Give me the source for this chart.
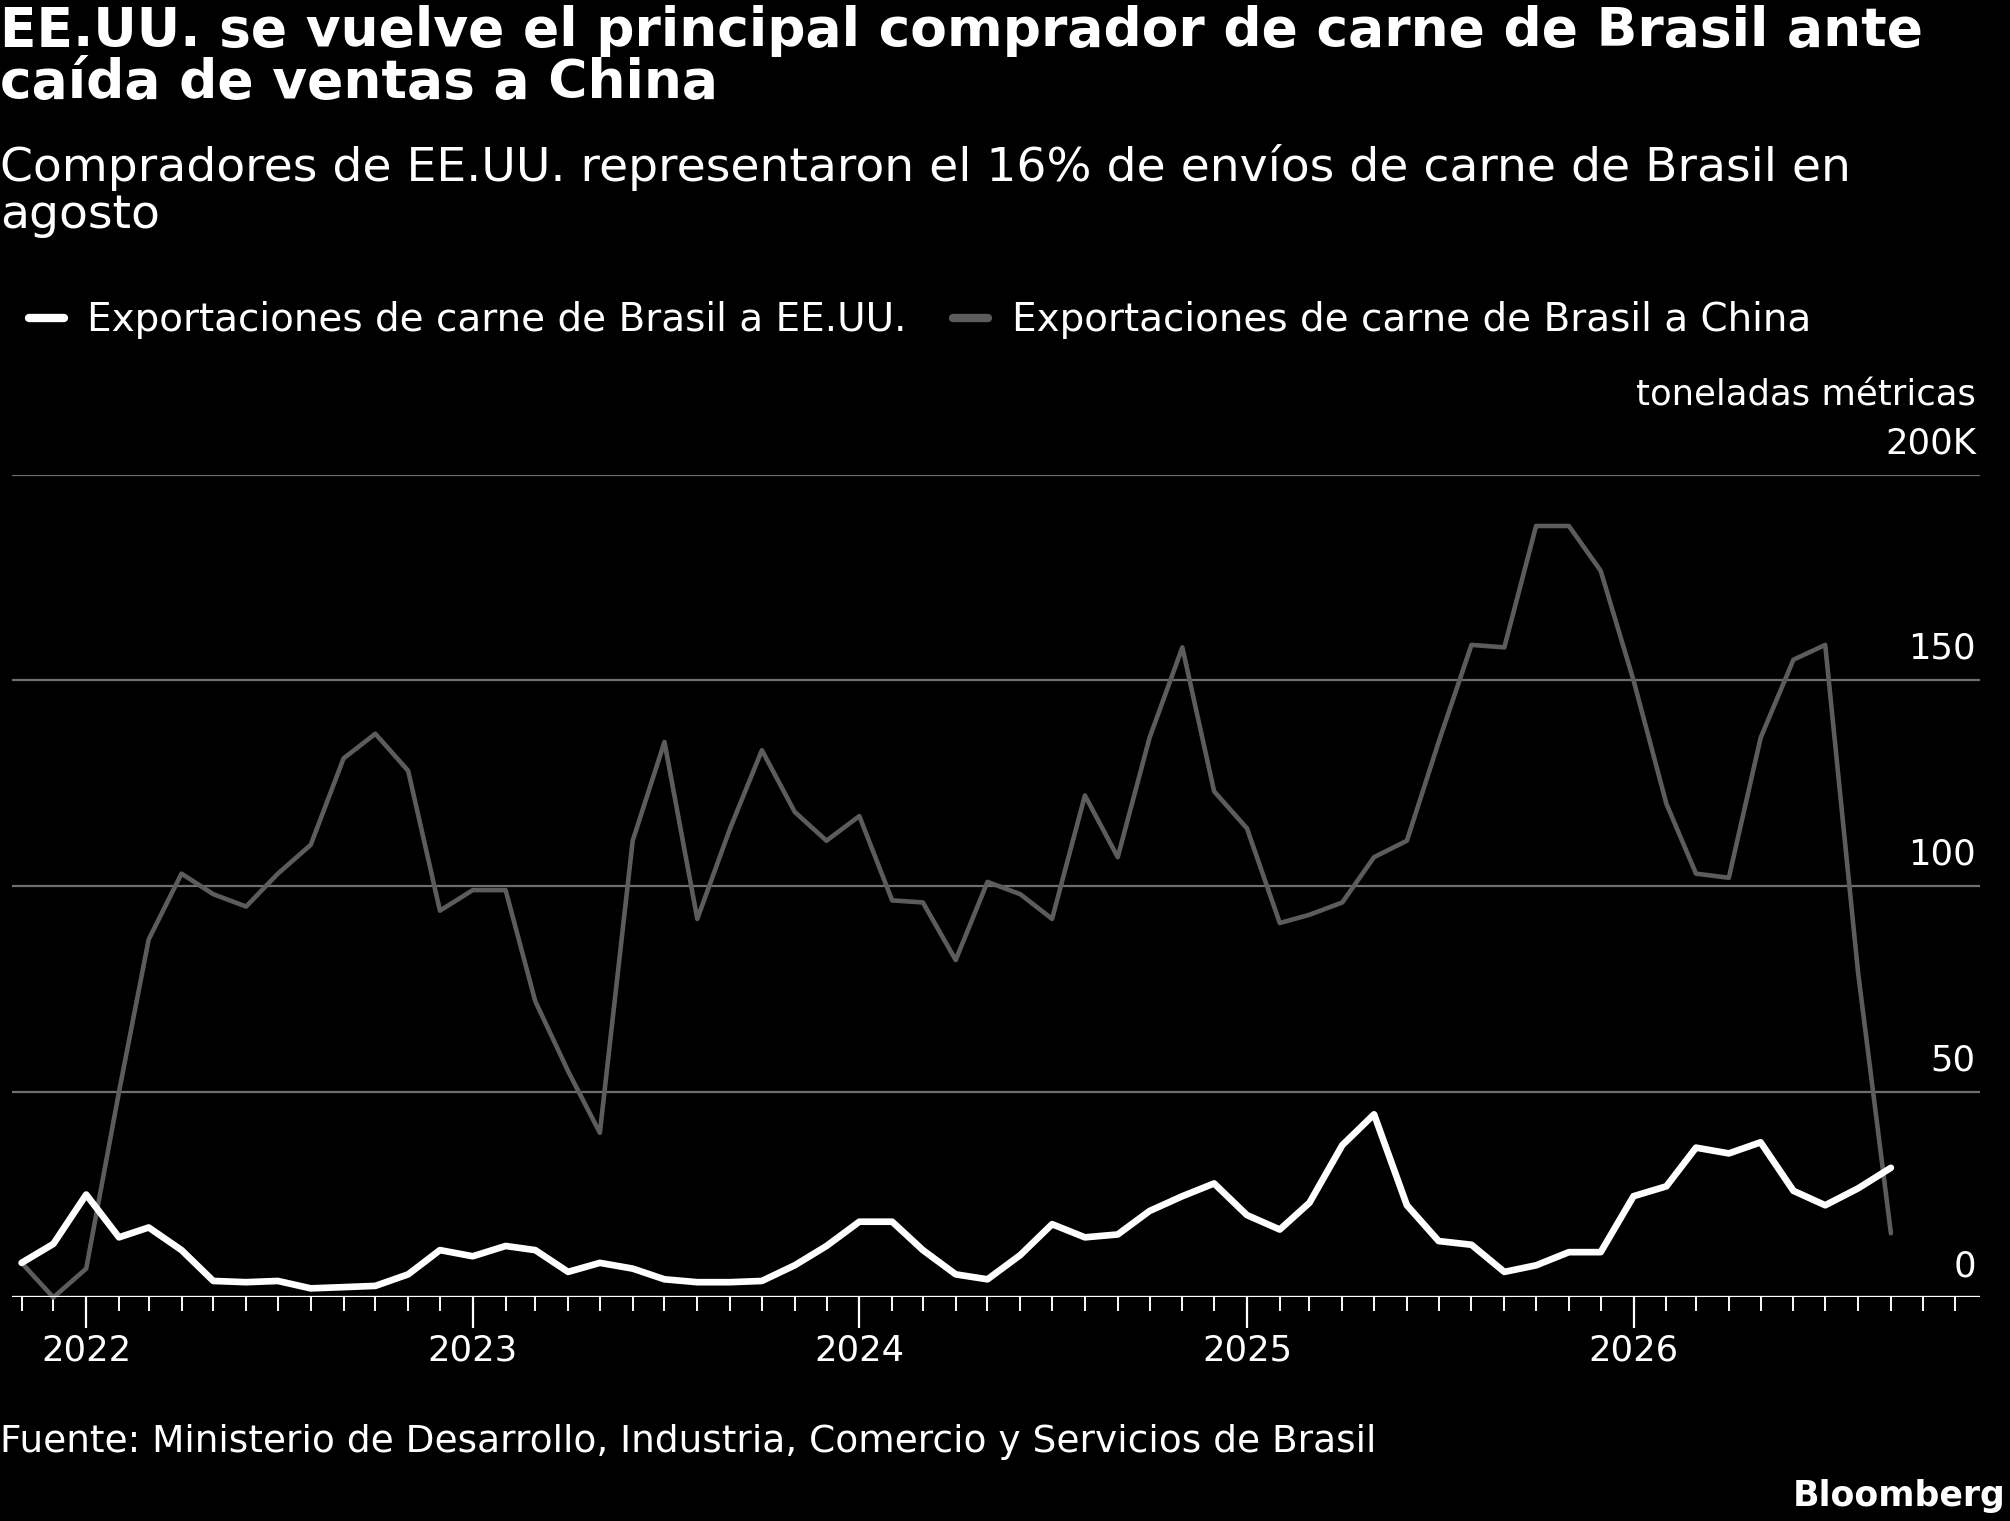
import numpy as np, pandas as pd, matplotlib
matplotlib.use("Agg")
import matplotlib.pyplot as plt, seaborn as sns
import matplotlib.dates as mdates
from matplotlib.lines import Line2D

months = pd.date_range("2021-11-01", "2026-09-01", freq="MS")
china = [8.4,0,7,50,87,103,98,95,103,110,131,137,128,94,99,99,72,55,40,111,135,92,114,133,118,111,
         117,96.5,96,82,101,98,92,122,107,136,158,123,114,91,93,96,107,111,135,158.6,158,187.5,187.5,176.6,
         150,120,103,102,136,155,158.6,79,15.6]
usa = [8.4,13,25,14.6,17,11.5,4,3.7,4,2.2,2.5,2.8,5.6,11.5,10,12.5,11.5,6.2,8.4,7,4.4,3.7,3.7,4,7.8,12.5,
       18.4,18.4,11.5,5.6,4.4,10.3,17.8,14.6,15.3,21,24.6,27.7,20,16.5,23,37,44.5,22.4,13.7,12.8,6.2,7.8,11,11,
       24.6,27,36.4,35,37.7,25.9,22.4,26.5,31.5]
yticks = [0, 50, 100, 150, 200]
ylabels = ["0", "50", "100", "150", "200K"]
df = pd.DataFrame({"date": months, "China": china, "EE.UU.": usa})

sns.set_style("dark")
plt.rcParams["font.family"] = ["DejaVu Sans"]
fig = plt.figure(figsize=(20.10, 15.21), dpi=100, facecolor="black")
ax = fig.add_axes([0.006, 0.147, 0.979, 0.541])
ax.set_facecolor("black")
sns.lineplot(data=df, x="date", y="China", ax=ax, color="#5c5c5c", lw=3.3, clip_on=False)
sns.lineplot(data=df, x="date", y="EE.UU.", ax=ax, color="white", lw=4.8, clip_on=False)
ax.set_ylim(0, 200)
ax.set_xlim(pd.Timestamp("2021-10-23"), pd.Timestamp("2026-11-24"))
ax.set_yticks(yticks)
ax.set_yticklabels([])
ax.tick_params(axis="y", length=0)
ax.grid(axis="y", color="#6e6e6e", lw=1.6)
ax.grid(axis="x", visible=False)
for s in ax.spines.values():
    s.set_visible(False)
ax.axhline(0, color="white", lw=1.6)
for v, l in zip(yticks, ylabels):
    ax.text(0.998, v + 3.5, l, transform=ax.get_yaxis_transform(), ha="right", va="bottom",
            color="white", fontsize=25.5)
ax.text(0.998, 215, "toneladas métricas", transform=ax.get_yaxis_transform(), ha="right",
        va="bottom", color="white", fontsize=25.5)
ax.xaxis.set_major_locator(mdates.YearLocator())
ax.xaxis.set_major_formatter(mdates.DateFormatter("%Y"))
ax.xaxis.set_minor_locator(mdates.MonthLocator())
ax.tick_params(axis="x", which="both", bottom=True)
ax.tick_params(axis="x", which="major", length=22, width=1.6, color="white", labelcolor="white",
               labelsize=25.5, pad=4, direction="out")
ax.tick_params(axis="x", which="minor", length=10, width=1.4, color="white", direction="out")
ax.set_xlabel(""); ax.set_ylabel("")

fig.text(0.0, 0.997, "EE.UU. se vuelve el principal comprador de carne de Brasil ante\ncaída de ventas a China",
         color="white", fontsize=38.5, fontweight="bold", va="top", linespacing=1.02)
fig.text(0.0, 0.905, "Compradores de EE.UU. representaron el 16% de envíos de carne de Brasil en\nagosto",
         color="white", fontsize=34, va="top", linespacing=1.05)
h = [Line2D([], [], color="white", lw=6), Line2D([], [], color="#5c5c5c", lw=6)]
fig.legend(h, ["Exportaciones de carne de Brasil a EE.UU.", "Exportaciones de carne de Brasil a China"],
           loc="upper left", bbox_to_anchor=(-0.003, 0.825), ncol=2, frameon=False, fontsize=28,
           labelcolor="white", handlelength=0.9, columnspacing=1.2, handletextpad=0.6)
fig.text(0.0, 0.04, "Fuente: Ministerio de Desarrollo, Industria, Comercio y Servicios de Brasil",
         color="white", fontsize=27, va="bottom")
fig.text(0.998, 0.005, "Bloomberg", color="white", fontsize=25, fontweight="bold", ha="right", va="bottom")
fig.savefig("out.png", facecolor="black")
